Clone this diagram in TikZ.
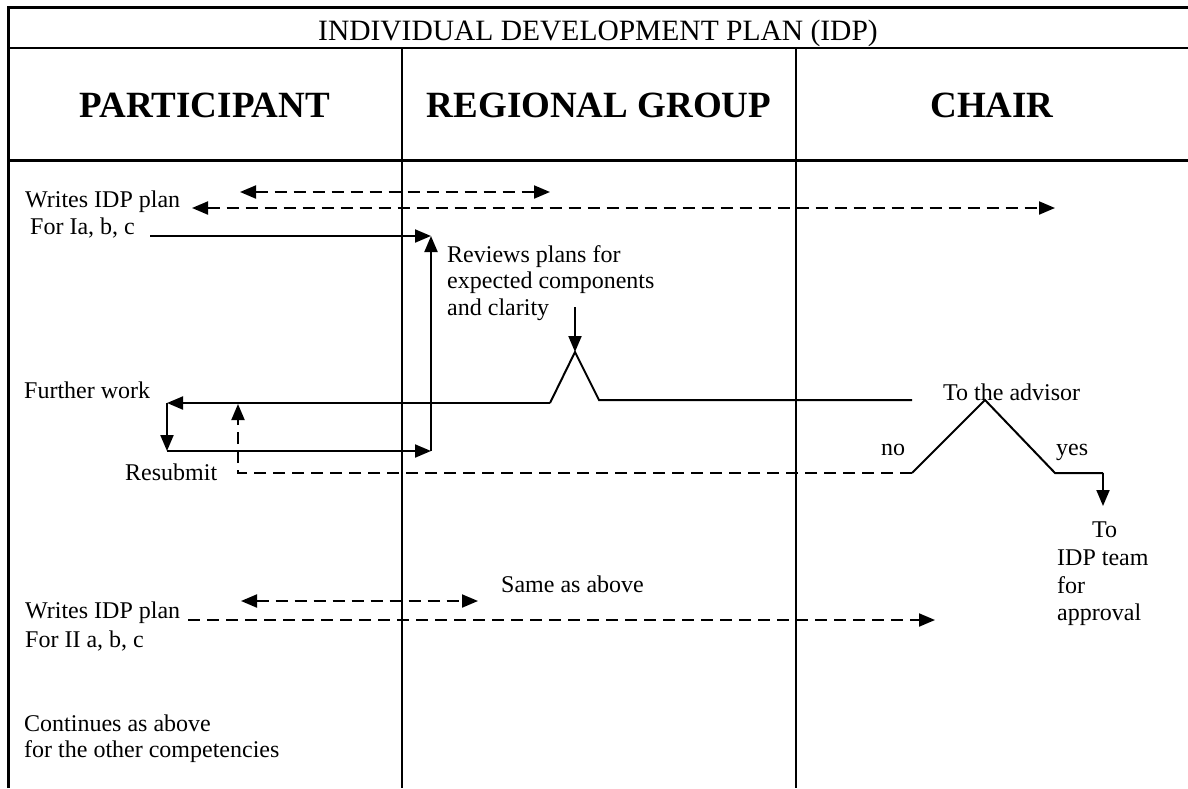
\documentclass[tikz,border=0pt]{standalone}
\usepackage{fontspec}
\setmainfont{Liberation Serif}
\usetikzlibrary{arrows.meta,positioning}

\begin{document}
\begin{tikzpicture}[x=1pt,y=-1pt,node distance=26.5pt,on grid,>={Triangle[length=16pt,width=13pt]},
    every node/.style={inner sep=0pt,font=\fontsize{24}{28}\selectfont},
    txt/.style={anchor=base west},
    hdr/.style={anchor=base,font=\fontsize{37}{42}\selectfont\bfseries},
    lane/.style={line width=2pt},
    flow/.style={line width=2pt},
    dflow/.style={line width=2pt,dash pattern=on 12pt off 7pt}]
        \useasboundingbox (0,0) rectangle (1188,788);

        % table
        \draw[line width=3pt] (8,788) -- (8,7) -- (1188,7);
        \draw[lane] (8,48) -- (1188,48);
        \draw[line width=3pt] (8,160) -- (1188,160);
        \draw[lane] (402,48) -- (402,788);
        \draw[lane] (796,48) -- (796,788);

        \node[anchor=base,font=\fontsize{29.5}{34}\selectfont] (title) at (598,40) {INDIVIDUAL DEVELOPMENT PLAN (IDP)};
        \node[hdr] (part)  at (205,117) {PARTICIPANT};
        \node[hdr] (group) at (599,117) {REGIONAL GROUP};
        \node[hdr] (chair) at (992,117) {CHAIR};

        % texts
        \node[txt] (write1)  at (25,207)                               {Writes IDP plan};
        \node[txt] (for1)    at (30,234)                               {For Ia, b, c};
        \node[txt] (rev1)    at (447,262)                              {Reviews plans for};
        \node[txt] (rev2)    [below=of rev1.base west,anchor=base west] {expected components};
        \node[txt] (rev3)    [below=of rev2.base west,anchor=base west] {and clarity};
        \node[txt] (further) at (24,398)                               {Further work};
        \node[txt] (resub)   at (125,480)                              {Resubmit};
        \node[txt] (advisor) at (943,400)                              {To the advisor};
        \node[txt] (no)      at (881,455)                              {no};
        \node[txt] (yes)     at (1056,455)                             {yes};
        \node[txt] (to)      at (1092,537)                             {To};
        \node[txt] (team1)   at (1057,565)                             {IDP team};
        \node[txt] (team2)   [below=28pt of team1.base west,anchor=base west] {for};
        \node[txt] (team3)   [below=27pt of team2.base west,anchor=base west] {approval};
        \node[txt] (same)    at (501,592)                              {Same as above};
        \node[txt] (write2)  at (25,618)                               {Writes IDP plan};
        \node[txt] (for2)    [below=29pt of write2.base west,anchor=base west] {For II a, b, c};
        \node[txt] (cont1)   at (24,731)                               {Continues as above};
        \node[txt] (cont2)   [below=of cont1.base west,anchor=base west] {for the other competencies};

        % points of the connectors
        \coordinate (a1) at (240,192);  \coordinate (a2) at (550,192);
        \coordinate (b1) at (192,208);  \coordinate (b2) at (1055,208);
        \coordinate (s0) at (150,236);  \coordinate (s1) at (431,236);
        \coordinate (c0) at (575,307);
        \coordinate (c1) at (550,403);  \coordinate (c2) at (575,352);
        \coordinate (c3) at (599,400);  \coordinate (c4) at (912,400);
        \coordinate (fw) at (167,403);  \coordinate (fd) at (167,451);
        \coordinate (rs) at (431,451);
        \coordinate (d1) at (912,473);  \coordinate (d2) at (985,400);
        \coordinate (d3) at (1055,473); \coordinate (d4) at (1103,473);
        \coordinate (d5) at (1103,506);
        \coordinate (r0) at (238,473);  \coordinate (r1) at (238,404);
        \coordinate (e1) at (241,601);  \coordinate (e2) at (478,601);
        \coordinate (g1) at (188,620);  \coordinate (g2) at (935,620);

        % first competency
        \draw[dflow,<->] (a1) -- (a2);
        \draw[dflow,<->] (b1) -- (b2);
        \draw[flow,->]   (s0) -- (s1);
        \draw[flow,->]   (c0) -- (c2);
        \draw[flow]      (c1) -- (c2) -- (c3) -- (c4);
        \draw[flow,->]   (c1) -- (fw);
        \draw[flow,->]   (fw) -- (fd);
        \draw[flow,->]   (fd) -- (rs);
        \draw[flow,->]   (rs) -- (s1);
        \draw[flow]      (d1) -- (d2) -- (d3) -- (d4);
        \draw[flow,->]   (d4) -- (d5);
        \draw[dflow,->]  (d1) -- (r0) -- (r1);

        % second competency
        \draw[dflow,<->] (e1) -- (e2);
        \draw[dflow,->]  (g1) -- (g2);
\end{tikzpicture}
\end{document}
